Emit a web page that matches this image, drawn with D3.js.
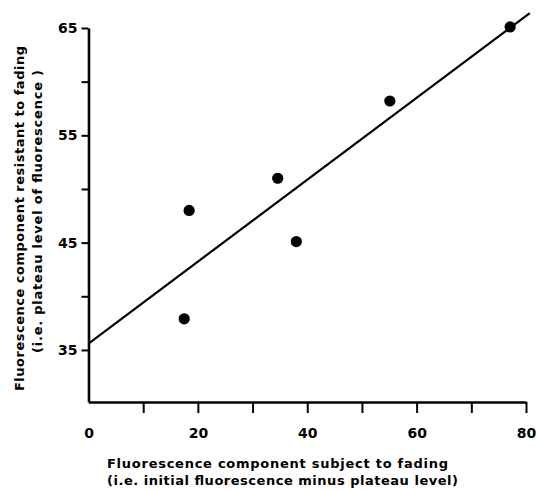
<!DOCTYPE html>
<html>
<head>
<meta charset="utf-8">
<script src="https://cdn.jsdelivr.net/npm/d3@7"></script>
<style>
  html, body { margin: 0; padding: 0; background: #fff; }
  svg { display: block; }
  text { font-family: "DejaVu Sans", "Liberation Sans", sans-serif; fill: #000; }
  .tick text { font-weight: bold; font-size: 14px; }
  .title { font-weight: bold; font-size: 13px; }
</style>
</head>
<body>
<svg id="chart" width="537" height="490"></svg>
<script>
// data
const subjectToFading = [17.5, 18.4, 34.6, 38.0, 55.1, 77.1];
const resistantToFading = [37.9, 48.0, 51.0, 45.1, 58.2, 65.1];

// fitted line, drawn from x = 0 out past the axis end
const fitIntercept = 35.6;
const fitSlope = 0.3815;
const fitX = [0, 80.7];

const xTicks = [0, 10, 20, 30, 40, 50, 60, 70, 80];
const xLabels = [0, 20, 40, 60, 80];
const yTicks = [35, 40, 45, 50, 55, 60, 65];
const yLabels = [35, 45, 55, 65];

const xTitle = ["Fluorescence  component  subject  to  fading",
                "(i.e.  initial  fluorescence  minus  plateau  level)"];
const yTitle = ["Fluorescence  component  resistant  to  fading",
                "(i.e.  plateau  level  of  fluorescence )"];

const svg = d3.select("#chart");

const x = d3.scaleLinear().domain([0, 80]).range([88.5, 526]);
const y = d3.scaleLinear().domain([30.15, 65]).range([402, 28]);

// axes
const gx = svg.append("g").attr("transform", `translate(0,${y.range()[0]})`)
  .call(d3.axisBottom(x).tickValues(xTicks)
    .tickFormat(d => xLabels.includes(d) ? d : "")
    .tickSize(11).tickSizeOuter(0).tickPadding(15));
gx.selectAll(".tick").filter(d => d === 0).select("line").remove();

const gy = svg.append("g").attr("transform", `translate(${x.range()[0]},0)`)
  .call(d3.axisLeft(y).tickValues(yTicks)
    .tickFormat(d => yLabels.includes(d) ? d : "")
    .tickSize(7).tickSizeOuter(0).tickPadding(4));

svg.selectAll(".domain").attr("stroke", "#000").attr("stroke-width", 2.6);
svg.selectAll(".tick line").attr("stroke", "#000").attr("stroke-width", 2);
svg.selectAll(".tick text").attr("font-family", null).attr("font-size", null);

// regression line
svg.append("line")
  .attr("x1", x(fitX[0])).attr("y1", y(fitIntercept + fitSlope * fitX[0]))
  .attr("x2", x(fitX[1])).attr("y2", y(fitIntercept + fitSlope * fitX[1]))
  .attr("stroke", "#000").attr("stroke-width", 2.2);

// points
svg.append("g").selectAll("circle")
  .data(subjectToFading.map((v, i) => [v, resistantToFading[i]]))
  .join("circle")
  .attr("cx", d => x(d[0])).attr("cy", d => y(d[1]))
  .attr("r", 5.6).attr("fill", "#000");

// axis titles
const xTitleLen = [341, 351];
xTitle.forEach((t, i) => {
  svg.append("text").attr("class", "title")
    .attr("x", 107).attr("y", 468 + i * 17)
    .attr("textLength", xTitleLen[i]).attr("lengthAdjust", "spacing")
    .text(t);
});

const yTitleStart = [391, 353];
const yTitleLen = [345, 283];
yTitle.forEach((t, i) => {
  const bx = 24 + i * 18;
  svg.append("text").attr("class", "title")
    .attr("transform", `translate(${bx},${yTitleStart[i]}) rotate(-90)`)
    .attr("textLength", yTitleLen[i]).attr("lengthAdjust", "spacing")
    .text(t);
});
</script>
</body>
</html>
